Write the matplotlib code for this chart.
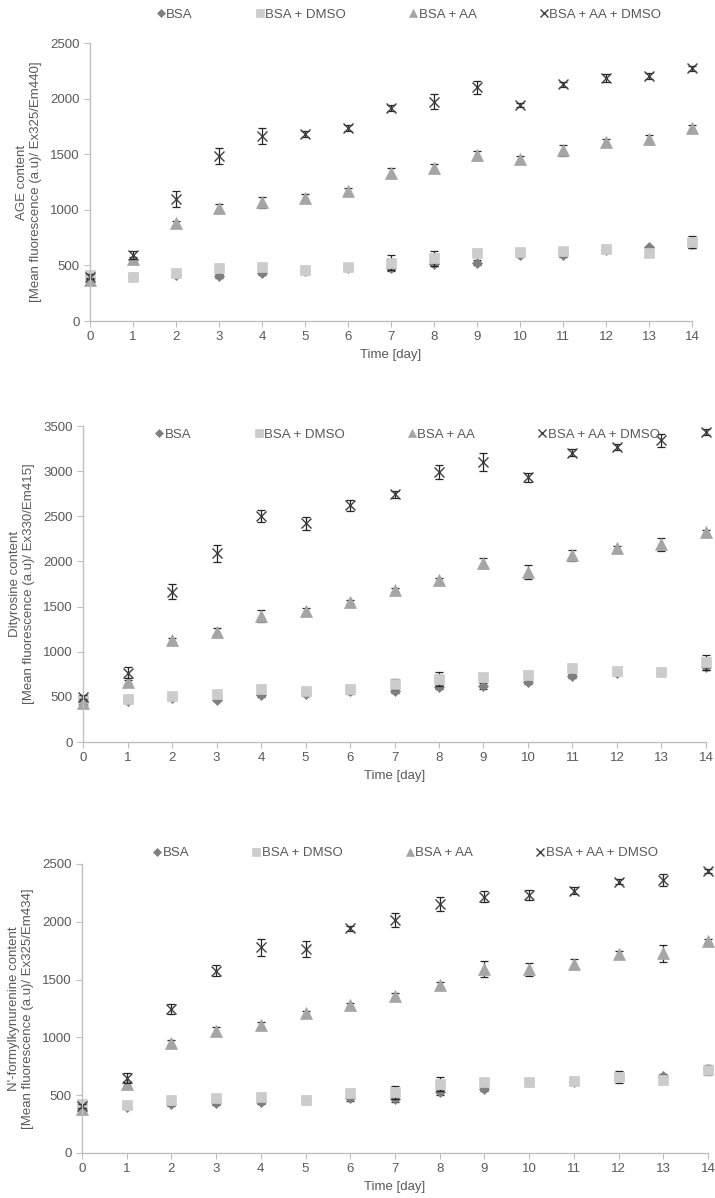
import numpy as np
import matplotlib.pyplot as plt

plt.rcParams['font.family'] = ['Liberation Sans', 'DejaVu Sans']

days = np.arange(15)
series_names = ['BSA', 'BSA + DMSO', 'BSA + AA', 'BSA + AA + DMSO']

# AGE content
age_bsa = [380, 400, 410, 405, 435, 450, 480, 474, 513, 525, 594, 594, 635, 663, 690]
age_bsa_err = [15, 15, 15, 15, 20, 15, 15, 20, 20, 25, 15, 15, 15, 15, 35]
age_dmso = [414, 393, 429, 474, 489, 459, 483, 525, 564, 609, 618, 630, 645, 614, 713]
age_dmso_err = [10, 10, 10, 10, 10, 10, 10, 65, 70, 10, 10, 10, 10, 10, 55]
age_aa = [369, 555, 879, 1013, 1068, 1107, 1170, 1334, 1379, 1493, 1457, 1538, 1607, 1634, 1738]
age_aa_err = [15, 25, 20, 40, 50, 35, 30, 40, 30, 40, 25, 50, 30, 40, 25]
age_aad = [399, 594, 1100, 1484, 1667, 1682, 1738, 1918, 1973, 2101, 1943, 2129, 2188, 2203, 2272]
age_aad_err = [20, 40, 70, 75, 70, 25, 25, 25, 70, 55, 15, 25, 35, 25, 25]

# Dityrosine content
dt_bsa = [440, 450, 490, 465, 520, 530, 560, 568, 612, 620, 668, 731, 760, 780, 830]
dt_bsa_err = [15, 15, 15, 15, 20, 20, 25, 20, 20, 30, 30, 20, 15, 15, 30]
dt_dmso = [470, 473, 513, 528, 583, 565, 587, 642, 694, 723, 742, 823, 789, 778, 882]
dt_dmso_err = [10, 10, 10, 10, 10, 10, 10, 60, 77, 10, 10, 10, 10, 10, 85]
dt_aa = [435, 668, 1129, 1221, 1395, 1450, 1553, 1683, 1793, 1985, 1885, 2070, 2144, 2188, 2328]
dt_aa_err = [15, 20, 20, 40, 65, 30, 20, 25, 25, 55, 74, 60, 30, 74, 25]
dt_aad = [502, 767, 1664, 2089, 2502, 2421, 2624, 2745, 2992, 3103, 2930, 3203, 3269, 3343, 3435]
dt_aad_err = [20, 60, 85, 90, 68, 75, 60, 40, 78, 103, 53, 40, 35, 74, 30]

# N'-formylkynurenine content
nfk_bsa = [380, 400, 424, 430, 440, 460, 473, 465, 525, 551, 610, 615, 660, 666, 730]
nfk_bsa_err = [15, 15, 15, 15, 15, 15, 20, 20, 20, 15, 15, 15, 15, 15, 15]
nfk_dmso = [420, 415, 458, 478, 487, 458, 522, 525, 597, 612, 617, 623, 655, 631, 718]
nfk_dmso_err = [10, 10, 10, 10, 10, 10, 10, 57, 63, 10, 10, 10, 50, 10, 40]
nfk_aa = [378, 597, 954, 1058, 1107, 1208, 1280, 1361, 1453, 1589, 1589, 1635, 1721, 1727, 1834]
nfk_aa_err = [15, 20, 20, 30, 30, 20, 15, 20, 25, 68, 58, 45, 30, 72, 15]
nfk_aad = [407, 646, 1246, 1577, 1779, 1765, 1944, 2015, 2154, 2217, 2232, 2269, 2347, 2362, 2439]
nfk_aad_err = [20, 43, 46, 48, 73, 68, 20, 58, 58, 50, 40, 30, 20, 49, 15]

panels = [
    dict(vals=[age_bsa, age_dmso, age_aa, age_aad],
         errs=[age_bsa_err, age_dmso_err, age_aa_err, age_aad_err],
         ylabel='AGE content\n[Mean fluorescence (a.u)/ Ex325/Em440]',
         ymax=2500, rect=[0.1259, 0.732, 0.8419, 0.232], leg_y=0.9875,
         leg_x=0.572),
    dict(vals=[dt_bsa, dt_dmso, dt_aa, dt_aad],
         errs=[dt_bsa_err, dt_dmso_err, dt_aa_err, dt_aad_err],
         ylabel='Dityrosine content\n[Mean fluorescence (a.u)/ Ex330/Em415]',
         ymax=3500, rect=[0.1161, 0.3806, 0.8713, 0.2638], leg_y=0.6370,
         leg_x=0.570),
    dict(vals=[nfk_bsa, nfk_dmso, nfk_aa, nfk_aad],
         errs=[nfk_bsa_err, nfk_dmso_err, nfk_aa_err, nfk_aad_err],
         ylabel="N'-formylkynurenine content\n[Mean fluorescence (a.u)/ Ex325/Em434]",
         ymax=2500, rect=[0.1147, 0.0376, 0.8755, 0.2412], leg_y=0.2877,
         leg_x=0.567),
]

styles = [
    dict(marker='D', color='#7f7f7f', ms=5),
    dict(marker='s', color='#cccccc', ms=7.5),
    dict(marker='^', color='#a5a5a5', ms=8),
    dict(marker='x', color='#404040', ms=7, mew=1.0),
]

fig = plt.figure(figsize=(7.15, 11.98), dpi=100)
axis_grey = '#bfbfbf'
text_grey = '#595959'

for p in panels:
    ax = fig.add_axes(p['rect'])
    handles = []
    for vals, errs, st, name in zip(p['vals'], p['errs'], styles, series_names):
        ax.errorbar(days, vals, yerr=errs, fmt='none', ecolor='#262626',
                    elinewidth=0.9, capsize=3, capthick=0.9, clip_on=False)
        h, = ax.plot(days, vals, linestyle='none', marker=st['marker'],
                     color=st['color'], markersize=st['ms'],
                     markeredgewidth=st.get('mew', 0.5),
                     markeredgecolor=st['color'], clip_on=False, label=name)
        handles.append(h)
    ax.set_xlim(0, 14)
    ax.set_ylim(0, p['ymax'])
    ax.set_xticks(days)
    ax.set_yticks(np.arange(0, p['ymax'] + 1, 500))
    for s in ['top', 'right']:
        ax.spines[s].set_visible(False)
    for s in ['left', 'bottom']:
        ax.spines[s].set_color(axis_grey)
        ax.spines[s].set_linewidth(1.0)
    ax.tick_params(axis='both', colors=axis_grey, labelcolor=text_grey,
                   labelsize=9.5, length=4, direction='out')
    ax.set_xlabel('Time [day]', fontsize=9.5, color=text_grey, labelpad=4)
    ax.set_ylabel(p['ylabel'], fontsize=9.5, color=text_grey, labelpad=6,
                  linespacing=1.15)
    fig.legend(handles=handles, labels=series_names, ncol=4, frameon=False,
               loc='center', bbox_to_anchor=(p['leg_x'], p['leg_y']),
               fontsize=9.5, labelcolor=text_grey, handlelength=0.6,
               handletextpad=0.1, columnspacing=4.8, markerscale=0.75)

fig.savefig('out.png', dpi=100)
